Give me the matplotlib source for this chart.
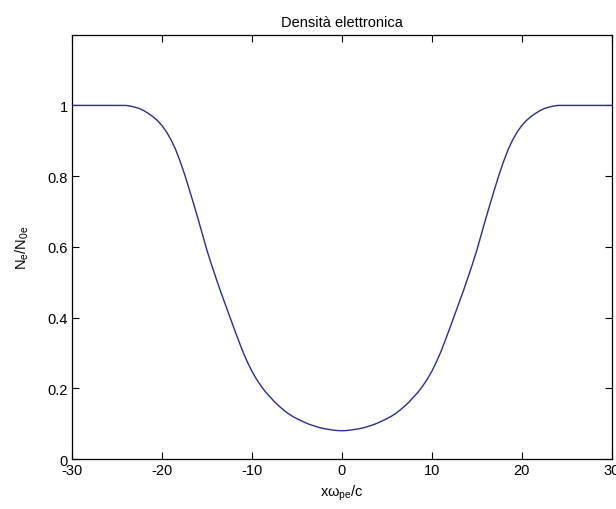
import numpy as np
import matplotlib.pyplot as plt

plt.rcParams['font.family'] = ['Liberation Sans', 'DejaVu Sans']
plt.rcParams['axes.unicode_minus'] = False

# normalised electron density profile N_e/N_0e vs x*omega_pe/c
x_pos = [-30, -29, -28, -27, -26, -25, -24, -23.5, -23, -22.5, -22, -21.5,
         -21, -20.5, -20, -19.5, -19, -18.5, -18, -17.5, -17, -16.5, -16,
         -15.5, -15, -14.5, -14, -13.5, -13, -12.5, -12, -11.5, -11, -10.5,
         -10, -9.5, -9, -8.5, -8, -7.5, -7, -6.5, -6, -5.5, -5, -4.5, -4,
         -3.5, -3, -2.5, -2, -1.5, -1, -0.5, 0,
         0.5, 1, 1.5, 2, 2.5, 3, 3.5, 4, 4.5, 5, 5.5, 6, 6.5, 7, 7.5, 8,
         8.5, 9, 9.5, 10, 10.5, 11, 11.5, 12, 12.5, 13, 13.5, 14, 14.5, 15,
         15.5, 16, 16.5, 17, 17.5, 18, 18.5, 19, 19.5, 20, 20.5, 21, 21.5,
         22, 22.5, 23, 23.5, 24, 25, 26, 27, 28, 29, 30]
density = [1.0, 1.0, 1.0, 1.0, 1.0, 1.0, 1.0, 0.998, 0.995, 0.991, 0.985,
           0.977, 0.968, 0.957, 0.943, 0.925, 0.903, 0.876, 0.843, 0.806,
           0.765, 0.723, 0.68, 0.635, 0.59, 0.55, 0.512, 0.475, 0.44, 0.405,
           0.37, 0.336, 0.303, 0.274, 0.248, 0.226, 0.207, 0.19, 0.176,
           0.162, 0.15, 0.139, 0.129, 0.121, 0.114, 0.108, 0.102, 0.097,
           0.093, 0.089, 0.086, 0.084, 0.082, 0.0805, 0.08,
           0.0805, 0.082, 0.084, 0.086, 0.089, 0.093, 0.097, 0.102, 0.108,
           0.114, 0.121, 0.129, 0.139, 0.15, 0.162, 0.176, 0.19, 0.207,
           0.226, 0.248, 0.274, 0.303, 0.336, 0.37, 0.405, 0.44, 0.475,
           0.512, 0.55, 0.59, 0.635, 0.68, 0.723, 0.765, 0.806, 0.843, 0.876,
           0.903, 0.925, 0.943, 0.957, 0.968, 0.977, 0.985, 0.991, 0.995,
           0.998, 1.0, 1.0, 1.0, 1.0, 1.0, 1.0, 1.0]

x_ticks = [-30, -20, -10, 0, 10, 20, 30]
y_ticks = [0, 0.2, 0.4, 0.6, 0.8, 1]
y_ticklabels = ['0', '0.2', '0.4', '0.6', '0.8', '1']

fig = plt.figure(figsize=(6.16, 5.10), dpi=100)
ax = fig.add_axes([0.117, 0.098, 0.876, 0.832])

ax.plot(x_pos, density, color='#2c2c8c', linewidth=1.0)

ax.set_xlim(-30, 30)
ax.set_ylim(0, 1.2)
ax.set_xticks(x_ticks)
ax.set_yticks(y_ticks)
ax.set_yticklabels(y_ticklabels)
ax.tick_params(direction='in', top=True, right=True, length=5, width=0.8,
               labelsize=10.5, pad=3)
for s in ax.spines.values():
    s.set_linewidth(0.9)

ax.set_title('Densità elettronica', fontsize=10.5, pad=6)
ax.set_xlabel(r'x$\mathregular{\omega_{pe}}$/c', fontsize=10.5, labelpad=4)
ax.set_ylabel(r'N$\mathregular{_e}$/N$\mathregular{_{0e}}$', fontsize=10.5,
              labelpad=12)

fig.savefig('out.png', dpi=100)
